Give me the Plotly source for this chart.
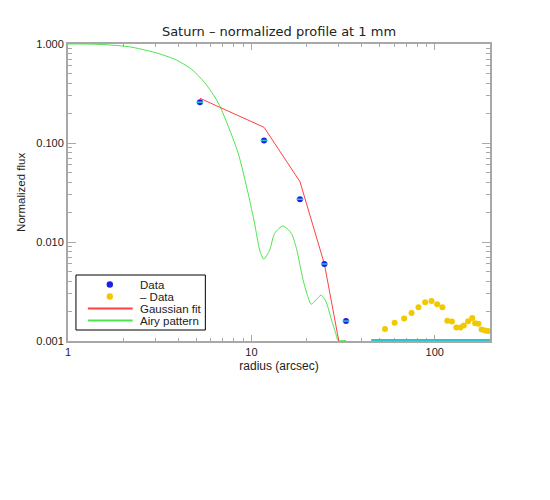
import plotly.graph_objects as go

# ---- data ----
data_x = [5.24, 11.72, 18.4, 25.0, 32.8]
data_y = [0.258, 0.106, 0.0270, 0.0060, 0.00159]

neg_x = [53.5, 60.4, 68.1, 74.7, 81.5, 88.6, 96.0, 103, 110, 117, 124,
         131, 138, 144, 152, 160, 166, 173, 180, 188, 195]
neg_y = [0.00132, 0.00153, 0.00169, 0.00192, 0.00219, 0.00246, 0.00254,
         0.00235, 0.00219, 0.00160, 0.00157, 0.00137, 0.00137, 0.00143,
         0.00158, 0.00171, 0.00151, 0.00149, 0.00131, 0.00128, 0.00126]

gauss_x = [5.24, 11.72, 18.4, 25.0, 32.8]
gauss_y = [0.283, 0.144, 0.0407, 0.0060, 0.00041]

airy_x = [1.0, 1.41, 2.14, 2.98, 3.83, 4.72, 5.57, 6.59, 7.62, 8.47, 9.6,
          10.4, 11.1, 11.67, 12.57, 13.4, 14.87, 16.5, 17.6, 19.1, 20.2,
          21.2, 22.5, 24.0, 25.5, 27.2, 29.0, 29.6, 31.0, 32.8]
airy_y = [1.0, 0.995, 0.94, 0.82, 0.70, 0.555, 0.406, 0.255, 0.135, 0.079,
          0.031, 0.0155, 0.0083, 0.0067, 0.0083, 0.01225, 0.0145, 0.01225,
          0.0086, 0.0042, 0.0029, 0.00235, 0.0026, 0.0029, 0.0025, 0.00169,
          0.00115, 0.00102, 0.00101, 0.00101]

floor_x = [45, 200]
floor_y = [0.00101, 0.00101]

x_ticks = [1, 10, 100]
x_labels = ["1", "10", "100"]
y_ticks = [0.001, 0.01, 0.1, 1]
y_labels = ["0.001", "0.010", "0.100", "1.000"]

legend_names = ["Data", "\u2013 Data", "Gaussian fit", "Airy pattern"]

BLUE = "#1E1EE6"
CYAN = "#2EC4CC"
YELLOW = "#F2C800"
RED = "#FF4040"
GREEN = "#4CE64C"
AXC = "#A8A8A8"
TXT = "#222222"
FONT = "Liberation Sans"
WIDE = "DejaVu Sans"

OFF = 8  # page body margin
W, H = 550, 500

fig = go.Figure()

fig.add_trace(go.Scatter(x=floor_x, y=floor_y, mode="lines",
                         line=dict(color=CYAN, width=3), showlegend=False))
fig.add_trace(go.Scatter(x=airy_x, y=airy_y, mode="lines",
                         line=dict(color=GREEN, width=1, shape="spline", smoothing=0.7),
                         showlegend=False))
fig.add_trace(go.Scatter(x=gauss_x, y=gauss_y, mode="lines",
                         line=dict(color=RED, width=1), showlegend=False))
fig.add_trace(go.Scatter(x=neg_x, y=neg_y, mode="markers",
                         marker=dict(color=YELLOW, size=6, line=dict(width=0)),
                         showlegend=False))
fig.add_trace(go.Scatter(x=data_x, y=data_y, mode="markers",
                         marker=dict(color=BLUE, size=6, line=dict(width=0)),
                         showlegend=False))
fig.add_trace(go.Scatter(x=data_x, y=data_y, mode="markers",
                         marker=dict(symbol="line-ew", size=5,
                                     line=dict(color=CYAN, width=1.5)),
                         showlegend=False))

# ---- plot box in page pixels ----
L, R, T, B = 66, 490, 44, 341
def px(xp):
    return (xp - L) / (R - L)
def py(yp):
    return (B - yp) / (B - T)

shapes = [dict(type="rect", xref="paper", yref="paper",
               x0=px(74), x1=px(204), y0=py(330), y1=py(275),
               line=dict(color="black", width=1), fillcolor="white", layer="above")]
rows = [284.5, 296.5, 308.5, 320.5]
for yy, col in zip(rows[:2], [BLUE, YELLOW]):
    shapes.append(dict(type="circle", xref="paper", yref="paper",
                       xsizemode="pixel", ysizemode="pixel",
                       xanchor=px(108), yanchor=py(yy),
                       x0=-3.2, x1=3.2, y0=-3.2, y1=3.2,
                       fillcolor=col, line=dict(width=0), layer="above"))
for yy, col in zip(rows[2:], [RED, GREEN]):
    shapes.append(dict(type="line", xref="paper", yref="paper",
                       x0=px(86), x1=px(131), y0=py(yy), y1=py(yy),
                       line=dict(color=col, width=2), layer="above"))
annotations = []
for yy, name in zip(rows, legend_names):
    annotations.append(dict(xref="paper", yref="paper", x=px(136), y=py(yy),
                            text=name, showarrow=False, xanchor="left",
                            yanchor="middle", font=dict(family=FONT, size=11.5, color=TXT)))

fig.update_layout(
    width=W, height=H,
    margin=dict(l=L - OFF, r=W - (R - OFF), t=T - OFF, b=H - (B - OFF)),
    paper_bgcolor="white", plot_bgcolor="white",
    showlegend=False,
    title=dict(text="Saturn \u2013 normalized profile at 1 mm", x=0.5, xref="paper",
               xanchor="center", y=1 - (31 - OFF) / H, yanchor="middle",
               font=dict(family=WIDE, size=13, color=TXT)),
    shapes=shapes, annotations=annotations,
    font=dict(family=FONT, size=11, color=TXT),
)

fig.update_xaxes(type="log", range=[0, 2.30103], tickvals=x_ticks, ticktext=x_labels,
                 showgrid=False, zeroline=False, showline=True, linecolor=AXC,
                 linewidth=2, mirror="ticks", ticks="inside", ticklen=6,
                 tickcolor=AXC, tickwidth=1, layer="below traces",
                 tickfont=dict(family=FONT, size=11, color=TXT),
                 minor=dict(ticks="inside", ticklen=3, tickcolor=AXC, dtick="D1",
                            showgrid=False),
                 title=dict(text="radius (arcsec)", standoff=4,
                            font=dict(family=FONT, size=12, color=TXT)))
fig.update_yaxes(type="log", range=[-3, 0], tickvals=y_ticks, ticktext=y_labels,
                 showgrid=False, zeroline=False, showline=True, linecolor=AXC,
                 linewidth=2, mirror="ticks", ticks="inside", ticklen=8,
                 tickcolor=AXC, tickwidth=1, layer="below traces",
                 tickfont=dict(family=FONT, size=11, color=TXT),
                 minor=dict(ticks="inside", ticklen=4, tickcolor=AXC, dtick="D1",
                            showgrid=False),
                 title=dict(text="Normalized flux", standoff=8,
                            font=dict(family=FONT, size=11.5, color=TXT)))

fig.write_html("out.html")
